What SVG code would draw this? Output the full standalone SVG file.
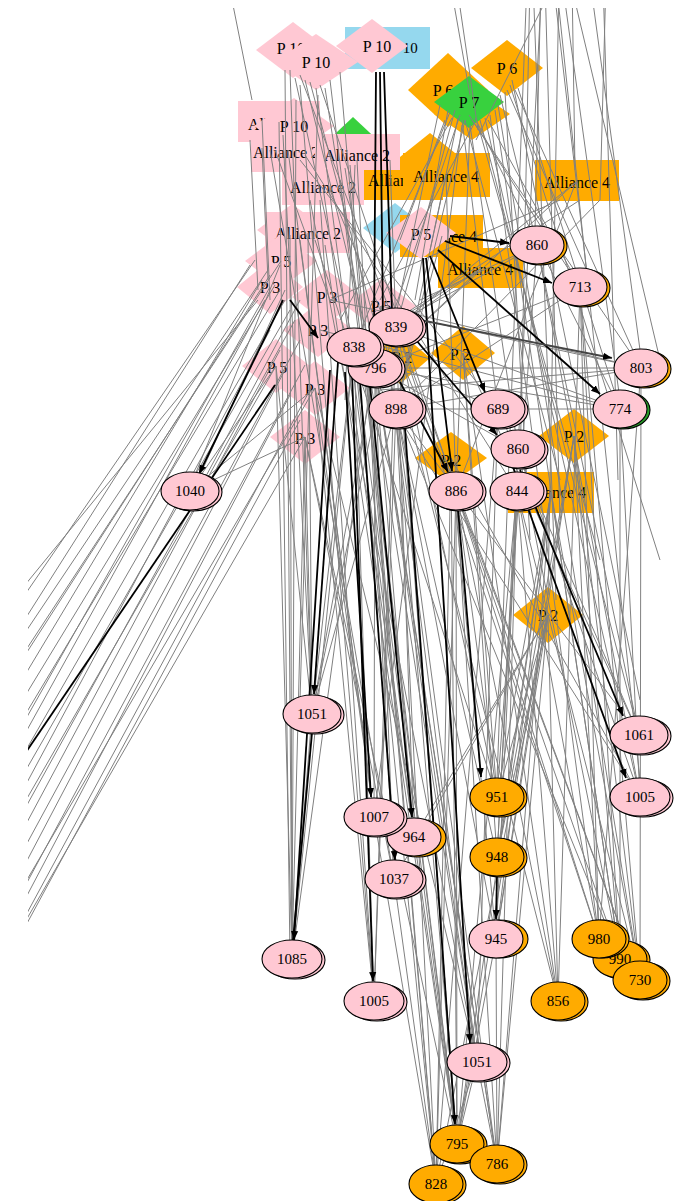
<svg xmlns="http://www.w3.org/2000/svg" width="684" height="1201" viewBox="0 0 684 1201">
<defs>
<style>
.pk{fill:#ffc8d3}.or{fill:#ffab00}.gr{fill:#38d13e}.bl{fill:#95d8ee}.gs{fill:#2a9d2a}
.e{stroke:#000;stroke-width:1.1}
text{font-family:"Liberation Serif","Times New Roman",serif;font-size:16px;text-anchor:middle;dominant-baseline:central;fill:#000}
.num{font-size:15px}
.g{fill:none;stroke:#808080;stroke-width:1}
.b{fill:none;stroke:#000;stroke-width:1.8;marker-end:url(#ah)}
.bn{fill:none;stroke:#000;stroke-width:1.8}
</style>
<marker id="ah" viewBox="0 0 10 10" refX="10" refY="5" markerWidth="9" markerHeight="9" markerUnits="userSpaceOnUse" orient="auto"><path d="M0,1 L10,5 L0,9 z" fill="#000"/></marker>
<clipPath id="clip"><rect x="28" y="8" width="656" height="1193"/></clipPath>
</defs>
<rect width="684" height="1201" fill="#fff"/>

<g id="nodes-back">
<g id="n_a10"><rect class="bl" x="345" y="27" width="85" height="42"/><text x="383" y="48" style="font-size:15px">Alliance 10</text></g>
<g id="n_p10a"><polygon class="pk" points="256,50 293,22 330,50 293,78"/><text x="291" y="48">P 10</text></g>
<g id="n_p10b"><polygon class="pk" points="274,62 316,34 358,62 316,90"/><text x="316" y="62">P 10</text></g>
<g id="n_p10c"><polygon class="pk" points="336,46 372,19 408,46 372,73"/><text x="377" y="46">P 10</text></g>
<g id="n_p6a"><polygon class="or" points="408,90 448,53 488,90 448,127"/><text x="443" y="90">P 6</text></g>
<g id="n_p7o"><polygon class="or" points="434,114 472,88 510,114 472,140"/></g>
<g id="n_p6b"><polygon class="or" points="471,68 507,40 543,68 507,96"/><text x="507" y="68">P 6</text></g>
<g id="n_p7"><polygon class="gr" points="434,102 469,76 504,102 469,128"/><text x="469" y="102">P 7</text></g>
<g id="n_a2a"><rect class="pk" x="238" y="101" width="82" height="41"/><text x="281" y="124">Alliance 2</text></g>
<g id="n_p10d"><polygon class="pk" points="254,126 294,98 334,126 294,154"/><text x="294" y="126">P 10</text></g>
<g id="n_gd"><polygon class="gr" points="321,147 353,117 385,147 353,177"/></g>
<g id="n_a2b"><rect class="pk" x="251" y="138" width="82" height="34"/><text x="286" y="152">Alliance 2</text></g>
<g id="n_od1"><polygon class="or" points="390,165 430,133 470,165 430,197"/></g>
<g id="n_a4a"><rect class="or" x="358" y="158" width="85" height="42"/><text x="401" y="180">Alliance 4</text></g>
<g id="n_a4b"><rect class="or" x="403" y="153" width="87" height="44"/><text x="446" y="176">Alliance 4</text></g>
<g id="n_a2c"><rect class="pk" x="315" y="134" width="85" height="36"/><text x="357" y="155">Alliance 2</text></g>
<g id="n_a2d"><rect class="pk" x="282" y="167" width="82" height="38"/><text x="323" y="187">Alliance 2</text></g>
<g id="n_a4r"><rect class="or" x="535" y="160" width="84" height="41"/><text x="577" y="182">Alliance 4</text></g>
<g id="n_pd0"><polygon class="pk" points="257,230 292,204 327,230 292,256"/></g>
<g id="n_a2e"><rect class="pk" x="265" y="212" width="85" height="41"/><text x="308" y="233">Alliance 2</text></g>
<g id="n_bd"><polygon class="bl" points="363,228 395,203 427,228 395,253"/></g>
<g id="n_a4c"><rect class="or" x="400" y="215" width="83" height="42"/><text x="444" y="236">Alliance 4</text></g>
<g id="n_p5a"><polygon class="pk" points="386,233 421,207 456,233 421,259"/><text x="421" y="234">P 5</text></g>
<g id="n_a4d"><rect class="or" x="438" y="248" width="85" height="40"/><text x="480" y="269">Alliance 4</text></g>
<g id="n_p5b"><polygon class="pk" points="245,261 281,234 317,261 281,288"/><text x="281" y="261">P 5</text></g>
<g id="n_p3a"><polygon class="pk" points="237,287 270,260 303,287 270,314"/><text x="270" y="287">P 3</text></g>
<g id="n_p3b"><polygon class="pk" points="292,297 327,270 362,297 327,324"/><text x="327" y="297">P 3</text></g>
<g id="n_p5c"><polygon class="pk" points="346,306 381,279 416,306 381,333"/><text x="381" y="306">P 5</text></g>
<g id="n_p3c"><polygon class="pk" points="283,330 318,303 353,330 318,357"/><text x="318" y="330">P 3</text></g>
<g id="n_p5d"><polygon class="pk" points="242,366 276,339 310,366 276,393"/><text x="277" y="367">P 5</text></g>
<g id="n_p3d"><polygon class="pk" points="280,388 315,361 350,388 315,415"/><text x="315" y="389">P 3</text></g>
<g id="n_p3e"><polygon class="pk" points="270,437 305,410 340,437 305,464"/><text x="305" y="438">P 3</text></g>
<g id="n_p2a"><polygon class="or" points="370,358 400,332 430,358 400,384"/><text x="402" y="357">P 2</text></g>
<g id="n_p2b"><polygon class="or" points="431,353 463,326 495,353 463,380"/><text x="460" y="354">P 2</text></g>
<g id="n_p2c"><polygon class="or" points="539,436 574,409 609,436 574,463"/><text x="574" y="436">P 2</text></g>
<g id="n_p2d"><polygon class="or" points="415,458 451,432 487,458 451,484"/><text x="451" y="460">P 2</text></g>
<g id="n_a4e"><rect class="or" x="508" y="472" width="86" height="41"/><text x="553" y="492">Alliance 4</text></g>
<g id="n_p2e"><polygon class="or" points="513,615 548,587 583,615 548,643"/><text x="548" y="615">P 2</text></g>
</g>

<g id="connectors" clip-path="url(#clip)">
<path class="g" d="M228 -20 L252 100 M448 -30 L470 95 M456 -20 L478 130 M527 -20 L497 780 M530 -20 L520 470 M533 -20 L556 600 M541 -20 L535 230 M542 -20 L498 840 M556 -20 L476 140 M556 -20 L640 780 M559 -20 L548 595 M562 -20 L620 400 M570 -20 L660 360 M572 -20 L575 170 M590 -20 L640 350 M603 -20 L618 480 M606 -20 L600 200 M545 -20 L560 520 M553 -20 L590 300"/>
<path class="g" d="M469 115 L580 287 M472 120 L641 368 M475 118 L620 409 M480 120 L639 735 M485 118 L640 797 M490 115 L599 939 M495 110 L620 959 M498 105 L640 980 M507 90 L600 300 M510 85 L660 560 M512 80 L640 700 M500 95 L537 245 M465 120 L560 480 M478 125 L600 560 M505 92 L530 540 M470 125 L518 449 M462 120 L498 409 M515 90 L641 368 M518 88 L620 409 M488 120 L580 287"/>
<path class="g" d="M455 110 L396 327 M460 115 L375 368 M450 112 L354 347 M465 120 L396 409 M458 118 L430 250 M445 120 L400 240 M470 125 L456 491 M448 110 L415 300 M440 105 L312 714 M462 125 L374 817 M452 118 L340 320 M475 122 L380 300"/>
<path class="g" d="M300 75 L396 327 M305 80 L375 368 M310 82 L398 409 M295 78 L354 347 M320 85 L456 491 M316 88 L414 837 M290 70 L312 714 M285 70 L292 959 M300 85 L374 1001 M325 88 L477 1062 M330 80 L457 1144 M340 72 L436 1184 M279 122 L290 959 M283 135 L312 714 M288 150 L374 817 M270 150 L394 879 M262 148 L268 280 M275 150 L330 300 M300 160 L498 409 M305 155 L517 491 M323 187 L414 837 M330 190 L456 491 M320 200 L374 1001 M310 200 L477 1062 M340 180 L457 1144 M357 160 L394 879 M350 165 L436 1184 M345 168 L497 1164 M308 233 L312 714 M300 240 L374 817 M315 240 L497 797 M290 235 L292 959 M325 245 L457 1144 M355 165 L345 400 M390 160 L414 837 M262 120 L270 300 M250 140 L258 290 M296 100 L292 959 M318 95 L300 700"/>
<path class="g" d="M354 347 L312 714 M354 347 L292 959 M375 368 L312 714 M375 368 L374 817 M375 368 L414 837 M375 368 L394 879 M396 327 L374 1001 M396 327 L497 797 M396 409 L497 857 M396 409 L496 939 M396 409 L457 1144 M396 409 L436 1184 M396 409 L497 1164 M381 306 L477 1062 M381 306 L558 1001 M354 347 L457 1144 M375 368 L497 1164 M396 327 L640 980 M396 327 L599 939 M396 409 L620 959 M396 409 L639 735 M354 347 L640 797 M381 306 L641 368 M375 368 L641 368 M396 409 L620 409 M396 327 L620 409 M354 347 L498 409 M375 368 L518 449 M354 347 L436 1184 M375 368 L477 1062 M396 327 L457 1144 M381 306 L292 959 M354 347 L374 1001 M396 409 L374 1001 M396 409 L312 714"/>
<path class="g" d="M456 491 L457 1144 M456 491 L436 1184 M456 491 L497 1164 M456 491 L599 939 M456 491 L620 959 M456 491 L640 980 M456 491 L558 1001 M456 491 L497 797 M517 491 L497 857 M517 491 L496 939 M517 491 L457 1144 M517 491 L497 1164 M517 491 L640 980 M517 491 L599 939 M518 449 L620 959 M518 449 L640 797 M498 409 L639 735 M498 409 L477 1062 M498 409 L436 1184 M463 353 L497 797 M463 353 L497 857 M463 353 L558 1001 M574 436 L599 939 M574 436 L497 857 M574 436 L457 1144 M574 436 L620 959 M574 436 L496 939 M551 492 L497 797 M551 492 L497 857 M551 492 L496 939 M551 492 L457 1144 M551 492 L497 1164 M551 492 L640 980 M548 615 L497 797 M548 615 L497 857 M548 615 L496 939 M548 615 L558 1001 M548 615 L436 1184 M548 615 L497 1164 M548 615 L414 837 M548 615 L394 879 M451 458 L436 1184 M451 458 L457 1144 M451 458 L496 939 M580 287 L620 959 M580 287 L599 939 M580 287 L640 980 M580 287 L558 1001 M537 245 L640 797 M537 245 L639 735 M537 245 L497 797 M641 368 L599 939 M641 368 L640 980 M620 409 L620 959 M620 409 L640 797 M574 436 L640 980 M551 492 L620 959 M517 491 L558 1001 M463 353 L639 735 M451 458 L640 797"/>
<path class="g" d="M576 182 L396 327 M576 182 L375 368 M580 200 L354 347 M600 200 L396 409 M560 200 L330 300 M576 182 L456 491 M446 176 L396 409 M446 176 L456 491 M480 269 L396 327 M480 269 L375 368 M480 269 L354 347 M442 236 L396 409 M537 245 L354 347 M580 287 L375 368 M580 287 L396 409 M641 368 L396 409 M620 409 L375 368 M641 368 L380 390 M330 300 L641 368 M320 330 L620 409 M537 245 L420 300"/>
<path class="g" d="M276 366 L292 959 M276 366 L312 714 M315 388 L374 1001 M315 388 L374 817 M305 437 L312 714 M305 437 L394 879 M305 437 L457 1144 M315 388 L477 1062 M276 366 L190 491 M315 388 L190 491 M305 437 L190 491 M280 265 L195 475 M285 290 L200 475 M300 300 L205 478 M477 1062 L457 1144 M477 1062 L436 1184 M477 1062 L497 1164 M496 939 L497 1164 M496 939 L457 1144 M394 879 L436 1184 M414 837 L457 1144 M374 817 L436 1184 M312 714 L292 959 M305 437 L292 959"/>
<path class="g" d="M255 260 L-20 660 M250 265 L-20 690 M268 270 L-20 700 M270 275 L-20 725 M262 280 L-20 750 M275 285 L-20 770 M280 290 L-20 790 M265 300 L-20 815 M285 300 L-20 830 M290 310 L-20 850 M270 330 L-20 870 M295 320 L-20 890 M280 350 L-20 910 M300 340 L-20 930 M285 370 L-20 950 M305 365 L-20 970 M290 395 L-20 985 M310 390 L-20 1000 M300 420 L-20 1010 M258 300 L-20 640 M276 366 L-20 880 M315 388 L-20 960 M305 437 L-20 1000 M281 261 L-20 720 M270 287 L-20 800"/>
<path class="b" d="M450 236 L509 243"/>
<path class="b" d="M445 241 L552 283"/>
<path class="b" d="M438 250 L600 394"/>
<path class="b" d="M430 256 L485 392"/>
<path class="b" d="M426 258 L452 471"/>
<path class="b" d="M423 258 L470 1043"/>
<path class="b" d="M420 320 L612 358" style="stroke:#444"/>
<path class="b" d="M416 340 L497 435"/>
<path class="b" d="M400 382 L448 472"/>
<path class="bn" d="M376 72 L374 330 M380 72 L383 320 M384 72 L392 312"/>
<path class="b" d="M338 362 L314 694"/>
<path class="b" d="M330 370 L294 940"/>
<path class="b" d="M345 372 L371 797"/>
<path class="b" d="M370 385 L412 817"/>
<path class="b" d="M352 372 L373 981"/>
<path class="b" d="M405 428 L455 1124"/>
<path class="b" d="M458 510 L481 777"/>
<path class="b" d="M497 876 L496 919"/>
<path class="b" d="M520 470 L623 716"/>
<path class="b" d="M505 445 L626 778"/>
<path class="b" d="M283 300 L199 474"/>
<path class="bn" d="M275 385 L-20 820"/>
<path class="bn" d="M312 733 L293 940"/>
<path class="b" d="M360 380 L395 860"/>
<path class="b" d="M290 300 L318 338"/>
</g>

<g id="nodes-front">
<g id="n_860a"><ellipse class="or e" cx="540" cy="246" rx="27" ry="19"/><ellipse class="pk e" cx="537" cy="245" rx="27" ry="19"/><text class="num" x="537" y="245">860</text></g>
<g id="n_713"><ellipse class="or e" cx="583" cy="288" rx="27" ry="19"/><ellipse class="pk e" cx="580" cy="287" rx="27" ry="19"/><text class="num" x="580" y="287">713</text></g>
<g id="n_803"><ellipse class="or e" cx="644" cy="369" rx="27" ry="19"/><ellipse class="pk e" cx="641" cy="368" rx="27" ry="19"/><text class="num" x="641" y="368">803</text></g>
<g id="n_774"><ellipse class="gs e" cx="623" cy="410" rx="27" ry="19"/><ellipse class="pk e" cx="620" cy="409" rx="27" ry="19"/><text class="num" x="620" y="409">774</text></g>
<g id="n_689"><ellipse class="pk e" cx="501" cy="410" rx="27" ry="19"/><ellipse class="pk e" cx="498" cy="409" rx="27" ry="19"/><text class="num" x="498" y="409">689</text></g>
<g id="n_796"><ellipse class="pk e" cx="378" cy="369" rx="27" ry="19"/><ellipse class="pk e" cx="375" cy="368" rx="27" ry="19"/><text class="num" x="375" y="368">796</text></g>
<g id="n_839"><ellipse class="pk e" cx="399" cy="328" rx="27" ry="19"/><ellipse class="pk e" cx="396" cy="327" rx="27" ry="19"/><text class="num" x="396" y="327">839</text></g>
<g id="n_838"><ellipse class="pk e" cx="357" cy="348" rx="27" ry="19"/><ellipse class="pk e" cx="354" cy="347" rx="27" ry="19"/><text class="num" x="354" y="347">838</text></g>
<g id="n_898"><ellipse class="pk e" cx="399" cy="410" rx="27" ry="19"/><ellipse class="pk e" cx="396" cy="409" rx="27" ry="19"/><text class="num" x="396" y="409">898</text></g>
<g id="n_860b"><ellipse class="pk e" cx="521" cy="450" rx="27" ry="19"/><ellipse class="pk e" cx="518" cy="449" rx="27" ry="19"/><text class="num" x="518" y="449">860</text></g>
<g id="n_886"><ellipse class="pk e" cx="459" cy="492" rx="27" ry="19"/><ellipse class="pk e" cx="456" cy="491" rx="27" ry="19"/><text class="num" x="456" y="491">886</text></g>
<g id="n_844"><ellipse class="pk e" cx="520" cy="492" rx="27" ry="19"/><ellipse class="pk e" cx="517" cy="491" rx="27" ry="19"/><text class="num" x="517" y="491">844</text></g>
<g id="n_1040"><ellipse class="pk e" cx="193" cy="492" rx="29" ry="19"/><ellipse class="pk e" cx="190" cy="491" rx="29" ry="19"/><text class="num" x="190" y="491">1040</text></g>
<g id="n_1051a"><ellipse class="pk e" cx="315" cy="715" rx="29" ry="19"/><ellipse class="pk e" cx="312" cy="714" rx="29" ry="19"/><text class="num" x="312" y="714">1051</text></g>
<g id="n_1061"><ellipse class="pk e" cx="642" cy="736" rx="29" ry="19"/><ellipse class="pk e" cx="639" cy="735" rx="29" ry="19"/><text class="num" x="639" y="735">1061</text></g>
<g id="n_1005r"><ellipse class="pk e" cx="643" cy="798" rx="30" ry="19"/><ellipse class="pk e" cx="640" cy="797" rx="30" ry="19"/><text class="num" x="640" y="797">1005</text></g>
<g id="n_951"><ellipse class="or e" cx="500" cy="798" rx="27" ry="19"/><ellipse class="or e" cx="497" cy="797" rx="27" ry="19"/><text class="num" x="497" y="797">951</text></g>
<g id="n_948"><ellipse class="or e" cx="500" cy="858" rx="27" ry="19"/><ellipse class="or e" cx="497" cy="857" rx="27" ry="19"/><text class="num" x="497" y="857">948</text></g>
<g id="n_964"><ellipse class="or e" cx="418" cy="838" rx="28" ry="19"/><ellipse class="pk e" cx="414" cy="837" rx="27" ry="19"/><text class="num" x="414" y="837">964</text></g>
<g id="n_1007"><ellipse class="pk e" cx="377" cy="818" rx="30" ry="19"/><ellipse class="pk e" cx="374" cy="817" rx="30" ry="19"/><text class="num" x="374" y="817">1007</text></g>
<g id="n_1037"><ellipse class="pk e" cx="397" cy="880" rx="29" ry="19"/><ellipse class="pk e" cx="394" cy="879" rx="29" ry="19"/><text class="num" x="394" y="879">1037</text></g>
<g id="n_945"><ellipse class="or e" cx="499" cy="939" rx="29" ry="19"/><ellipse class="pk e" cx="496" cy="939" rx="27" ry="19"/><text class="num" x="496" y="939">945</text></g>
<g id="n_990"><ellipse class="or e" cx="623" cy="960" rx="27" ry="19"/><ellipse class="or e" cx="620" cy="959" rx="27" ry="19"/><text class="num" x="620" y="959">990</text></g>
<g id="n_980"><ellipse class="or e" cx="602" cy="939" rx="27" ry="19"/><ellipse class="or e" cx="599" cy="939" rx="27" ry="19"/><text class="num" x="599" y="939">980</text></g>
<g id="n_730"><ellipse class="or e" cx="643" cy="981" rx="27" ry="19"/><ellipse class="or e" cx="640" cy="980" rx="27" ry="19"/><text class="num" x="640" y="980">730</text></g>
<g id="n_1085"><ellipse class="pk e" cx="295" cy="960" rx="30" ry="19"/><ellipse class="pk e" cx="292" cy="959" rx="30" ry="19"/><text class="num" x="292" y="959">1085</text></g>
<g id="n_1005l"><ellipse class="pk e" cx="377" cy="1002" rx="30" ry="19"/><ellipse class="pk e" cx="374" cy="1001" rx="30" ry="19"/><text class="num" x="374" y="1001">1005</text></g>
<g id="n_856"><ellipse class="or e" cx="561" cy="1002" rx="27" ry="19"/><ellipse class="or e" cx="558" cy="1001" rx="27" ry="19"/><text class="num" x="558" y="1001">856</text></g>
<g id="n_1051b"><ellipse class="pk e" cx="480" cy="1063" rx="30" ry="19"/><ellipse class="pk e" cx="477" cy="1062" rx="30" ry="19"/><text class="num" x="477" y="1062">1051</text></g>
<g id="n_828"><ellipse class="or e" cx="439" cy="1185" rx="27" ry="19"/><ellipse class="or e" cx="436" cy="1184" rx="27" ry="19"/><text class="num" x="436" y="1184">828</text></g>
<g id="n_795"><ellipse class="or e" cx="460" cy="1145" rx="27" ry="19"/><ellipse class="or e" cx="457" cy="1144" rx="27" ry="19"/><text class="num" x="457" y="1144">795</text></g>
<g id="n_786"><ellipse class="or e" cx="500" cy="1165" rx="27" ry="19"/><ellipse class="or e" cx="497" cy="1164" rx="27" ry="19"/><text class="num" x="497" y="1164">786</text></g>
</g>
</svg>
